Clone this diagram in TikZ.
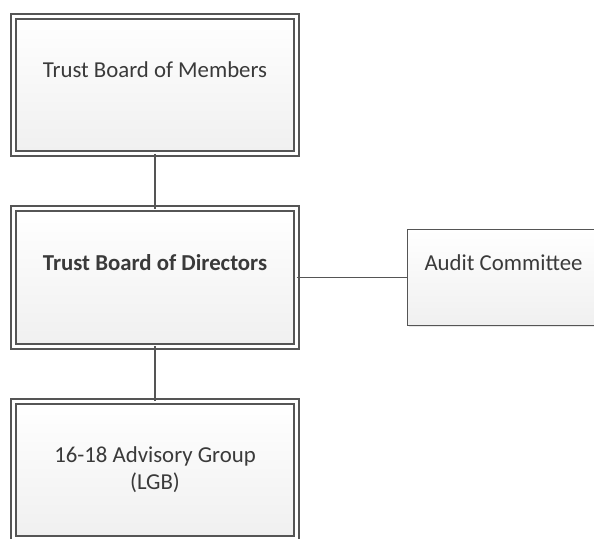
\documentclass[tikz,border=0pt]{standalone}
\usepackage{fontspec}
\setmainfont{Carlito}
\usetikzlibrary{positioning,shadows}

\definecolor{edge}{HTML}{555555}
\definecolor{ink}{HTML}{3A3A3A}

\begin{document}
\begin{tikzpicture}[x=1pt, y=1pt,
  font=\fontsize{22.8}{27}\selectfont,
  node distance=55pt,
  box/.style={draw=edge, line width=1.9pt, top color=white, bottom color=black!6,
              text=ink, align=center, outer sep=0pt,
              drop shadow={shadow xshift=1.5pt, shadow yshift=-1.5pt, opacity=0.18}},
  mainbox/.style={box, double=white, double distance=3.3pt, line width=1.9pt,
                  minimum width=283pt, minimum height=137.5pt},
  sidebox/.style={box, minimum width=192pt, minimum height=96pt},
  onerow/.style={text height=16pt, text depth=31pt},
  link/.style={draw=edge, line width=1.9pt}
]
\useasboundingbox (0,0) rectangle (594,-538);

% --- Nodes ---
\node[mainbox, onerow] (members) at (155,-85) {Trust Board of Members};
\node[mainbox, onerow, below=of members] (directors) {\textbf{Trust Board of Directors}};
\node[mainbox, below=of directors] (advisory) {16-18 Advisory Group\\(LGB)};
\node[sidebox, onerow, right=111pt of directors] (audit) {Audit Committee};

% --- Connectors ---
\draw[link] (members) -- (directors);
\draw[link] (directors) -- (advisory);
\draw[link] (directors) -- (audit);

\end{tikzpicture}
\end{document}
